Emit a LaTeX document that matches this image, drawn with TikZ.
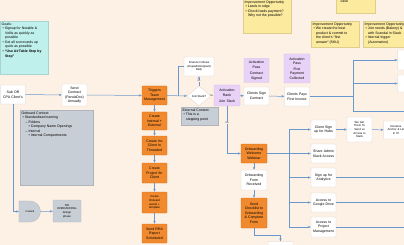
\documentclass[tikz,border=0pt]{standalone}
\usepackage{fontspec}
\setmainfont{Liberation Sans}
\usetikzlibrary{arrows.meta,shapes.geometric,shadows}

\definecolor{bgpeach}{RGB}{253,241,229}
\definecolor{linkblue}{RGB}{104,152,205}
\definecolor{boxline}{RGB}{218,213,207}
\definecolor{orangefill}{RGB}{241,138,46}
\definecolor{orangeline}{RGB}{214,112,28}
\definecolor{lilac}{RGB}{233,210,247}
\definecolor{lilacline}{RGB}{210,185,228}
\definecolor{grayfill}{RGB}{200,206,213}
\definecolor{grayline}{RGB}{178,185,193}
\definecolor{cyannote}{RGB}{192,240,236}
\definecolor{yellownote}{RGB}{252,234,158}

\newcommand{\fs}{\fontsize{10}{13}\selectfont}
\newcommand{\fsmall}{\fontsize{8}{10.5}\selectfont}

\begin{document}
\begin{tikzpicture}[x=1mm, y=-1mm,
  box/.style={draw=boxline, line width=0.3mm, fill=white, rounded corners=0.6mm,
    minimum width=25mm, minimum height=19mm, text width=23.5mm, align=center,
    inner sep=0.5mm, font=\fs},
  orangebox/.style={box, draw=orangeline, fill=orangefill},
  lilacbox/.style={box, draw=lilacline, fill=lilac},
  graybox/.style={box, draw=grayline, fill=grayfill},
  decision/.style={diamond, draw=boxline, line width=0.3mm, fill=white,
    minimum width=24mm, minimum height=20mm, inner sep=0pt, aspect=1.2, font=\fsmall},
  panel/.style={draw=#1!88!black, fill=#1, line width=0.2mm, anchor=north west,
    inner sep=1.5mm, font=\fs,
    drop shadow={shadow xshift=0.5mm, shadow yshift=-0.8mm, opacity=0.12}},
  link/.style={draw=linkblue, line width=0.5mm},
  flow/.style={link, -{Stealth[length=3mm, width=2.4mm]}},
  lbl/.style={font=\fontsize{6.5}{7}\selectfont, fill=bgpeach, inner sep=0.4mm, text=black!75},
]
  \useasboundingbox (0,0) rectangle (404,245);
  \clip (0,0) rectangle (404,245);
  \fill[bgpeach] (0,0) rectangle (404,245);

  % sticky notes
  \node[panel=cyannote] (goals) at (0,21) {\parbox[t][50mm][t]{45mm}{\raggedright
    Goals:\\
    \hspace*{1mm}• Signup for Notable \&\\
    \hspace*{3.5mm}Vellis as quickly as\\
    \hspace*{3.5mm}possible\\
    \hspace*{1mm}• Get all scorecards up\\
    \hspace*{3.5mm}quick as possible\\
    \hspace*{1mm}\textbf{• “Use AirTable Step by}\\
    \hspace*{3.5mm}\textbf{Step”}}};
  \node[panel=yellownote] (improve1) at (243,-1) {\parbox[t][31mm][t]{45mm}{\raggedright
    Improvement Opportunity\\
    \hspace*{1mm}• Leads in edge\\
    \hspace*{1mm}• Check leads payment?\\
    \hspace*{3.5mm}Why not the possible?}};
  \node[panel=yellownote] (improve2) at (336,-9) {\parbox[t][19mm][t]{36mm}{\raggedright
    \vspace*{8mm}\hspace*{3mm}case}};
  \node[panel=yellownote] (improve3) at (311,21) {\parbox[t][23mm][t]{45mm}{\raggedright
    Improvement Opportunity\\
    \hspace*{1mm}• We create the best\\
    \hspace*{3.5mm}product \& commit to\\
    \hspace*{3.5mm}the client’s “first\\
    \hspace*{3.5mm}answer” (SKU)}};
  \node[panel=yellownote] (improve4) at (363,21) {\parbox[t][23mm][t]{45mm}{\raggedright
    Improvement Opportunity\\
    \hspace*{1mm}• Join needs (Bakery) \&\\
    \hspace*{3.5mm}with Scandal in Slack\\
    \hspace*{1mm}• Internal trigger\\
    \hspace*{3.5mm}(Automation)}};

  % context panels
  \node[panel=grayfill] (onbctx) at (20,110) {\parbox[t][72mm][t]{70mm}{\raggedright
    Onboard Context:\\
    \hspace*{1mm}• Standardized naming\\
    \hspace*{4mm}– Folders\\
    \hspace*{7mm}• Company Name Openings\\
    \hspace*{4mm}– Internal\\
    \hspace*{7mm}• Internal Compartments}};
  \node[panel=grayfill, drop shadow={opacity=0}] (extctx) at (181,107) {\parbox[t][15mm][t]{34mm}{\raggedright
    External Context:\\
    \hspace*{1mm}• This is a\\
    \hspace*{3.5mm}stepping point}};

  % entry
  \node[box, minimum width=24mm] (subor) at (13,94.5) {Sub OR\\CPA Client's};
  \node[box, minimum height=22mm] (send) at (74.5,95) {Send\\Contract\\(PandaDoc)\\Annually};
  \node[minimum width=21.5mm, minimum height=21mm, inner sep=0pt, font=\fsmall] (oneweek) at (29.75,211.5) {};
  \filldraw[fill=grayfill, draw=grayline, line width=0.3mm]
    (oneweek.north west) -- (30,201) arc[start angle=-90, end angle=90, radius=10.5] -- (oneweek.south west) -- cycle;
  \node[font=\fsmall] (oneweektxt) at (oneweek.center) {1 week};
  \node[graybox, minimum width=28mm, minimum height=22mm, text width=26mm, font=\fsmall] (nodesign) at (67,211)
    {NO\\ONBOARDING\\design\\phase};

  % team column
  \node[orangebox] (triggers) at (154.5,95.5) {Triggers\\Team\\Management};
  \node[orangebox, minimum height=18mm] (createint) at (154.5,121) {Create\\Internal +\\External};
  \node[orangebox] (createinc) at (154.5,145.5) {Create Inc\\Client In\\Threaded};
  \node[orangebox, minimum height=20mm] (createproj) at (154.5,173) {Create\\Project for\\Client};
  \node[orangebox, minimum height=21mm, font=\fsmall] (createasset) at (154.5,202.5) {Create\\Onboard\\assets +\\template};
  \node[orangebox] (sendrra) at (154.5,233.5) {Send RRA\\Report\\Scheduled};

  % slack decision
  \node[decision] (joinslack) at (199,96) {Join Slack?};
  \node[box, minimum width=30mm, text width=29mm, font=\fsmall] (finance) at (199,66.5)
    {Finance Follows\\(Unpaid/Unsigned)\\Daily};
  \node[lilacbox, minimum width=26mm, minimum height=21mm] (activation) at (227,95.5) {Activation\\Rank\\[1.5mm]Join Slack};
  \node[box, minimum height=18mm] (clientsign) at (256.5,96) {Clients Sign\\Contract};
  \node[box] (clientpays) at (297,96.5) {Clients Pays\\First Invoice};
  \node[lilacbox, minimum height=24mm] (actpass1) at (256.5,70.5) {Activation\\Pass\\[1.5mm]Contract\\Signed};
  \node[lilacbox, minimum width=26mm, minimum height=29mm] (actpass2) at (297,68.5) {Activation\\Pass\\[1mm]First\\Payment\\Collected};
  \node[box, minimum width=24mm, minimum height=20mm] (rbox1) at (410,60) {};
  \node[box, minimum width=24mm, minimum height=17mm] (rbox2) at (410,83.5) {};

  % onboarding
  \node[orangebox, minimum width=26mm] (webinar) at (254,153.5) {Onboarding\\Welcome\\Webinar};
  \node[box, minimum width=26mm, minimum height=20mm] (formrec) at (254,180) {Onboarding\\Form\\Received};
  \node[orangebox, minimum width=26mm, minimum height=30mm] (checklist) at (254,213)
    {Send\\Checklist to\\Onboarding\\\& Complete\\Form};
  \node[box] (bottombox) at (280.5,251) {};

  % access column
  \node[box] (hubs) at (323.5,129.5) {Client Sign\\up for Hubs};
  \node[box, minimum height=25mm, font=\fsmall] (getthem) at (359.5,129.5) {We Get\\Them To\\Send us\\Access to\\Slack};
  \node[box, minimum width=24mm, minimum height=18mm, font=\fsmall] (rename) at (396,130) {Rename\\Anchor \& Let\\In It?};
  \node[box] (shareadmin) at (323.5,153.5) {Share Admin\\Slack Access};
  \node[box] (analytics) at (323.5,177.5) {Sign up for\\Analytics};
  \node[box] (gdrive) at (323.5,202.5) {Access to\\Google Drive};
  \node[box, minimum height=20mm] (projmgmt) at (323.5,227) {Access to\\Project\\Management};

  \coordinate (loopx) at (178,66.5);
  \coordinate (split) at (353,96.5);
  \coordinate (fan) at (289,153.5);
  \coordinate (offr) at (412,0);
  \coordinate (bend) at (280.5,235);

  % connectors
  \draw[flow] (subor) -- (send);
  \draw[flow] (send) -- (triggers);
  \draw[flow] (subor.south) |- (oneweek.west);
  \draw[flow] (oneweek.east) -- (nodesign);
  \draw[flow] (triggers) -- (createint);
  \draw[flow] (createint) -- (createinc);
  \draw[flow] (createinc) -- (createproj);
  \draw[flow] (createproj) -- (createasset);
  \draw[flow] (createasset) -- (sendrra);
  \draw[flow] (triggers) -- (joinslack);
  \draw[flow] (joinslack) -- node[lbl] {No} (finance);
  \draw[link] (finance.west) -- (loopx) -- (loopx |- joinslack);
  \draw[flow] (joinslack) -- node[lbl, pos=0.2] {Yes} (activation);
  \draw[flow] (activation) -- (clientsign);
  \draw[flow] (clientsign) -- (clientpays);
  \draw[link] (clientpays) -- (split);
  \draw[link] (split |- rbox1) -- (353,111) -- (offr |- 0,111);
  \draw[flow] (split |- rbox1) -- (rbox1);
  \draw[flow] (split |- rbox2) -- (rbox2);
  \draw[flow] (activation.south) |- node[lbl, pos=0.18] {Yes} (webinar.west);
  \draw[flow] (webinar) -- (formrec);
  \draw[flow] (formrec) -- (checklist);
  \draw[flow] (checklist.south) |- (bend) -- (bottombox.north);
  \draw[link] (webinar.east) -- (fan);
  \draw[link] (fan |- hubs) -- (fan |- projmgmt);
  \foreach \n in {hubs,shareadmin,analytics,gdrive,projmgmt}
    \draw[flow] (fan |- \n) -- (\n);
  \draw[flow] (hubs) -- (getthem);
  \draw[flow] (getthem) -- (rename);
  \foreach \n in {analytics,gdrive,projmgmt}
    \draw[link] (\n) -- (offr |- \n);
\end{tikzpicture}
\end{document}
